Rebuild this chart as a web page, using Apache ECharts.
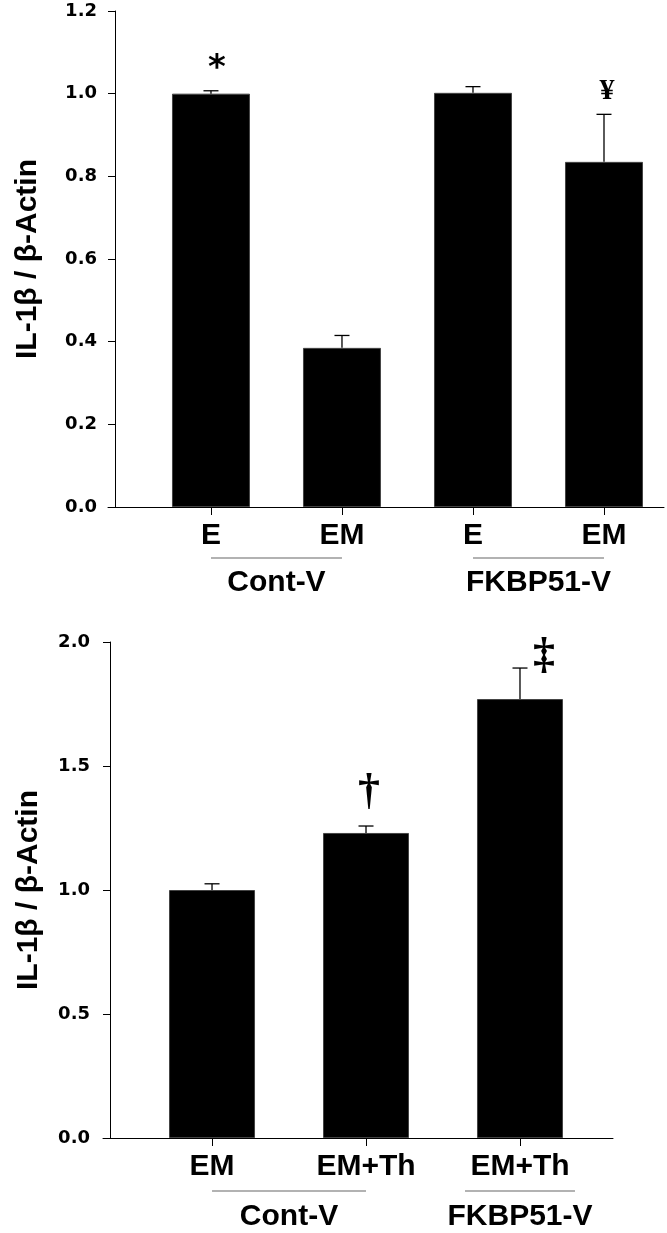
<!DOCTYPE html>
<html>
<head>
<meta charset="utf-8">
<title>IL-1β / β-Actin</title>
<script src="https://cdn.jsdelivr.net/npm/echarts@6/dist/echarts.min.js"></script>
<style>
  html, body { margin: 0; padding: 0; background: #fff; }
  #chart { width: 667px; height: 1233px; }
</style>
</head>
<body>
<div id="chart"></div>
<script>
// upper panel
const topLabels = ['E', 'EM', 'E', 'EM'];
const topMeans = [1.0, 0.385, 1.002, 0.835];
const topErrors = [0.007, 0.03, 0.015, 0.115];
const topMarks = ['*', '', '', '¥'];
const topGroups = ['Cont-V', 'FKBP51-V'];
const topGroupFrom = [0, 2];
const topGroupTo = [1, 3];

// lower panel
const bottomLabels = ['EM', 'EM+Th', 'EM+Th'];
const bottomMeans = [1.0, 1.23, 1.77];
const bottomErrors = [0.025, 0.028, 0.125];
const bottomMarks = ['', '†', '‡'];
const bottomGroups = ['Cont-V', 'FKBP51-V'];
const bottomGroupFrom = [0, 2];
const bottomGroupTo = [1, 2];

const yTitle = 'IL-1β / β-Actin';

// how each significance sign is drawn (offsets in px from the error bar cap)
const markStyle = {
  '*': { font: 'bold 34px "DejaVu Sans"', dx: 6, dy: -22 },
  '¥': { font: 'bold 30px "Liberation Serif"', dx: 3, dy: -23 },
  '†': { font: 'bold 44px "Liberation Serif"', dx: 3, dy: -33 },
  '‡': { font: 'bold 44px "Liberation Serif"', dx: 24, dy: -11 }
}

const sans = '"Liberation Sans", Arial, sans-serif'

function buildPanel(idx, p) {
  const ticks = p.labels.map((_, i) => i)
  const grid = { left: p.left, top: p.top, width: p.width, height: p.height }
  const xAxis = {
    gridIndex: idx,
    type: 'value',
    min: p.xMin,
    max: p.xMax,
    axisLine: { onZero: false, lineStyle: { color: '#000', width: 1 } },
    axisTick: { customValues: ticks, length: 8, lineStyle: { color: '#000', width: 1 } },
    axisLabel: {
      customValues: ticks,
      formatter: v => p.labels[Math.round(v)],
      margin: 14,
      color: '#000',
      fontSize: 30,
      fontWeight: 'bold',
      fontFamily: sans
    },
    splitLine: { show: false }
  }
  const yAxis = {
    gridIndex: idx,
    type: 'value',
    min: 0,
    max: p.yMax,
    interval: p.yStep,
    offset: -7,
    axisLine: { show: true, onZero: false, lineStyle: { color: '#000', width: 1 } },
    axisTick: { show: true, length: 7, lineStyle: { color: '#000', width: 1 } },
    axisLabel: {
      margin: p.labelMargin,
      color: '#000',
      fontSize: 18,
      fontWeight: 'bold',
      fontFamily: '"DejaVu Sans", sans-serif',
      formatter: v => v.toFixed(1)
    },
    splitLine: { show: false },
    name: yTitle,
    nameLocation: 'middle',
    nameRotate: 90,
    nameGap: p.nameGap,
    nameTextStyle: { color: '#000', fontSize: 30, fontWeight: 'bold', fontFamily: sans }
  }

  const bars = {
    type: 'bar',
    xAxisIndex: idx,
    yAxisIndex: idx,
    barWidth: p.barWidth,
    itemStyle: { color: '#000', borderColor: '#444', borderWidth: 1 },
    data: p.means.map((v, i) => [i, v]),
    z: 2
  }

  const errors = {
    type: 'custom',
    xAxisIndex: idx,
    yAxisIndex: idx,
    clip: false,
    z: 5,
    encode: { x: 0, y: 1 },
    data: p.means.map((v, i) => [i, v, p.errors[i]]),
    renderItem(params, api) {
      const x = api.value(0)
      const m = api.value(1)
      const e = api.value(2)
      const base = api.coord([x, m])
      const cap = api.coord([x, m + e])
      const children = [
        { type: 'line', shape: { x1: base[0], y1: base[1], x2: cap[0], y2: cap[1] },
          style: { stroke: '#000', lineWidth: 1.3 } },
        { type: 'line', shape: { x1: cap[0] - 7.5, y1: cap[1], x2: cap[0] + 7.5, y2: cap[1] },
          style: { stroke: '#000', lineWidth: 1.3 } }
      ]
      const mark = p.marks[params.dataIndex]
      if (mark) {
        const s = markStyle[mark]
        children.push({
          type: 'text',
          x: cap[0] + s.dx,
          y: cap[1] + s.dy,
          style: { text: mark, font: s.font, fill: '#000', align: 'center', verticalAlign: 'middle' }
        })
      }
      return { type: 'group', children }
    }
  }

  const groups = {
    type: 'custom',
    xAxisIndex: idx,
    yAxisIndex: idx,
    clip: false,
    z: 5,
    encode: { x: [0, 1], y: 2 },
    data: p.groups.map((g, i) => [p.groupFrom[i], p.groupTo[i], 0]),
    renderItem(params, api) {
      const a = api.coord([api.value(0), 0])
      const b = api.coord([api.value(1), 0])
      let x1 = a[0], x2 = b[0]
      if (x2 - x1 < 1) { x1 -= 55; x2 += 55 }
      const y = a[1]
      return {
        type: 'group',
        children: [
          { type: 'line', shape: { x1, y1: y + p.lineDy, x2, y2: y + p.lineDy },
            style: { stroke: '#666', lineWidth: 1.2 } },
          { type: 'text', x: (x1 + x2) / 2, y: y + p.textDy,
            style: { text: p.groups[params.dataIndex], fill: '#000', font: 'bold 30px ' + sans,
              align: 'center', verticalAlign: 'middle' } }
        ]
      }
    }
  }

  return { grid, xAxis, yAxis, series: [bars, errors, groups] }
}

const upper = buildPanel(0, {
  left: 108, top: 11, width: 556, height: 496,
  xMin: -0.786, xMax: 3.458, yMax: 1.2, yStep: 0.2,
  labelMargin: 18, nameGap: 72, barWidth: 78,
  lineDy: 51, textDy: 76,
  labels: topLabels, means: topMeans, errors: topErrors, marks: topMarks,
  groups: topGroups, groupFrom: topGroupFrom, groupTo: topGroupTo
})

const lower = buildPanel(1, {
  left: 103, top: 642, width: 510, height: 496,
  xMin: -0.708, xMax: 2.604, yMax: 2.0, yStep: 0.5,
  labelMargin: 20, nameGap: 66, barWidth: 86,
  lineDy: 53, textDy: 79,
  labels: bottomLabels, means: bottomMeans, errors: bottomErrors, marks: bottomMarks,
  groups: bottomGroups, groupFrom: bottomGroupFrom, groupTo: bottomGroupTo
})

const chart = echarts.init(document.getElementById('chart'))
chart.setOption({
  animation: false,
  backgroundColor: '#fff',
  grid: [upper.grid, lower.grid],
  xAxis: [upper.xAxis, lower.xAxis],
  yAxis: [upper.yAxis, lower.yAxis],
  series: upper.series.concat(lower.series)
})
window.addEventListener('resize', () => chart.resize())
</script>
</body>
</html>
